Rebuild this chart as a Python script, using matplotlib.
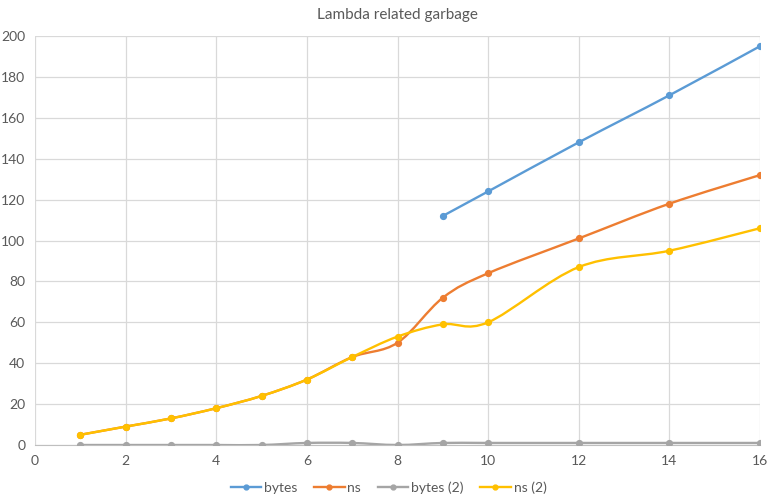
import matplotlib
matplotlib.use("Agg")
import matplotlib.pyplot as plt
from matplotlib.path import Path
import matplotlib.patches as patches
import numpy as np

plt.rcParams['font.family'] = ['Lato', 'DejaVu Sans']

x_ns = [1, 2, 3, 4, 5, 6, 7, 8, 9, 10, 12, 14, 16]
ns = [5, 9, 13, 18, 24, 32, 43, 50, 72, 84, 101, 118, 132]
ns2 = [5, 9, 13, 18, 24, 32, 43, 53, 59, 60, 87, 95, 106]
bytes2 = [0, 0, 0, 0, 0, 1, 1, 0, 1, 1, 1, 1, 1]

x_bytes = [9, 10, 12, 14, 16]
bytes_ = [112, 124, 148, 171, 195]

series_names = ['bytes', 'ns', 'bytes (2)', 'ns (2)']
colors = ['#5B9BD5', '#ED7D31', '#A5A5A5', '#FFC000']


def smooth_path(xs, ys):
    # excel style smoothed line: catmull-rom turned into cubic beziers
    pts = np.column_stack([xs, ys]).astype(float)
    n = len(pts)
    verts = [pts[0]]
    codes = [Path.MOVETO]
    for i in range(n - 1):
        p0 = pts[i - 1] if i > 0 else pts[i]
        p1 = pts[i]
        p2 = pts[i + 1]
        p3 = pts[i + 2] if i + 2 < n else pts[i + 1]
        c1 = p1 + (p2 - p0) / 6.0
        c2 = p2 - (p3 - p1) / 6.0
        verts += [c1, c2, p2]
        codes += [Path.CURVE4] * 3
    return Path(verts, codes)


fig = plt.figure(figsize=(7.77, 5.01), dpi=100)
ax = fig.add_axes([35 / 777, 56 / 501, 725 / 777, 409 / 501])

data = [(x_bytes, bytes_), (x_ns, ns), (x_ns, bytes2), (x_ns, ns2)]
for (xs, ys), name, c in zip(data, series_names, colors):
    patch = patches.PathPatch(smooth_path(xs, ys), facecolor='none',
                              edgecolor=c, lw=1.7, zorder=3)
    ax.add_patch(patch)
    ax.plot(xs, ys, 'o', color=c, markersize=4.2, zorder=4)
    # legend proxy
    ax.plot([], [], '-o', color=c, lw=1.7, markersize=3.5, label=name)

ax.set_xlim(0, 16)
ax.set_ylim(0, 200)
ax.set_xticks(range(0, 17, 2))
ax.set_yticks(range(0, 201, 20))
ax.grid(True, color='#D9D9D9', lw=0.9)
ax.set_axisbelow(True)
for s in ['top', 'right', 'left']:
    ax.spines[s].set_visible(False)
ax.spines['bottom'].set_color('#BFBFBF')
ax.tick_params(length=0, labelsize=10, colors='#595959', pad=7)

ax.set_title('Lambda related garbage', fontsize=11, color='#595959', pad=12)

fig.legend(loc='lower center', ncol=4, frameon=False, fontsize=10,
           labelcolor='#595959', bbox_to_anchor=(0.5, -0.01),
           handlelength=2.2, handletextpad=0.2, columnspacing=1.2)

fig.savefig('out.png', dpi=100)
